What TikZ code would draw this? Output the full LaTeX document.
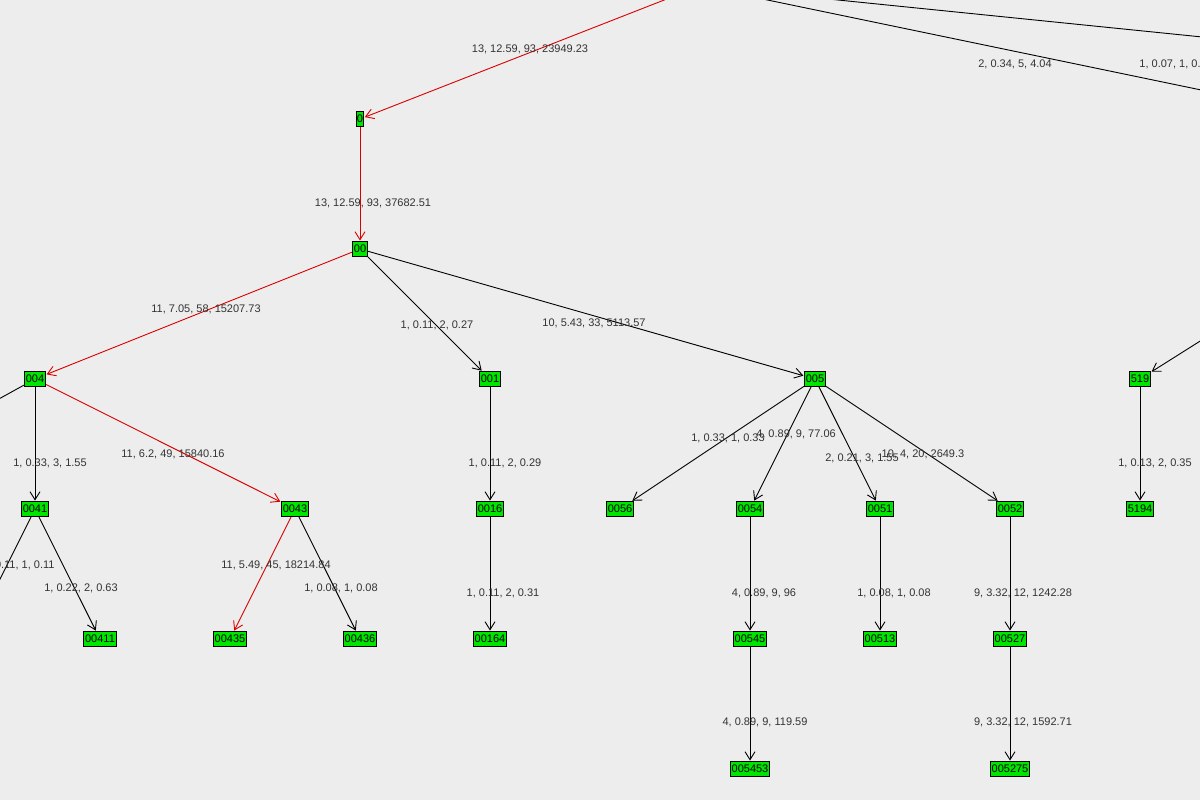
\documentclass[tikz,border=0pt]{standalone}
\usepackage{fontspec}
\setmainfont{Liberation Sans}
\usetikzlibrary{arrows.meta,positioning}

\begin{document}
\begin{tikzpicture}[x=1pt,y=-1pt,line width=0.9pt]
\tikzset{myFont/.style={font=\fontsize{11}{12}\selectfont}}
\tikzset{myBox/.style={draw,fill=green!90!black,myFont,inner sep=1.5pt,minimum height=15pt}}
\tikzset{myLbl/.style={myFont,text=black!80,inner sep=0pt}}
\tikzset{myEdge/.style={-{Straight Barb[length=8pt,width=10pt]},shorten >=0.5pt}}
\tikzset{myRed/.style={myEdge,red!85!black}}

\useasboundingbox (0,0) rectangle (1200,800);
\fill[black!7] (0,0) rectangle (1200,800);
\clip (0,0) rectangle (1200,800);

% nodes outside the frame
\node[myBox] (root) at (700,-14) {};
\node[myBox] (n51) at (1500,152) {};
\node[myBox] (n52) at (2000,118) {};
\node[myBox] (n0042) at (-200,509) {};
\node[myBox] (n00412) at (-30,639) {};

\node[myBox,inner sep=0.8pt] (n0) at (360,119) {0};
\node[myBox] (n00) at (360,249) {00};
\node[myBox] (n004) at (35,379) {004};
\node[myBox] (n001) at (490,379) {001};
\node[myBox] (n005) at (815,379) {005};
\node[myBox] (n519) at (1140,379) {519};
\node[myBox] (n0041) at (35,509) {0041};
\node[myBox] (n0043) at (295,509) {0043};
\node[myBox] (n0016) at (490,509) {0016};
\node[myBox] (n0056) at (620,509) {0056};
\node[myBox] (n0054) at (750,509) {0054};
\node[myBox] (n0051) at (880,509) {0051};
\node[myBox] (n0052) at (1010,509) {0052};
\node[myBox] (n5194) at (1140,509) {5194};
\node[myBox] (n00411) at (100,639) {00411};
\node[myBox] (n00435) at (230,639) {00435};
\node[myBox] (n00436) at (360,639) {00436};
\node[myBox] (n00164) at (490,639) {00164};
\node[myBox] (n00545) at (750,639) {00545};
\node[myBox] (n00513) at (880,639) {00513};
\node[myBox] (n00527) at (1010,639) {00527};
\node[myBox] (n005453) at (750,769) {005453};
\node[myBox] (n005275) at (1010,769) {005275};

% red path
\draw[myRed] (root) -- (n0);
\draw[myRed] (n0) -- (n00);
\draw[myRed] (n00) -- (n004);
\draw[myRed] (n004) -- (n0043);
\draw[myRed] (n0043) -- (n00435);

% other edges
\draw[myEdge] (root) -- (n51);
\draw[myEdge] (root) -- (n52);
\draw[myEdge] (n51) -- (n519);
\draw[myEdge] (n004) -- (n0042);
\draw[myEdge] (n0041) -- (n00412);
\draw[myEdge] (n00) -- (n001);
\draw[myEdge] (n00) -- (n005);
\draw[myEdge] (n004) -- (n0041);
\draw[myEdge] (n0041) -- (n00411);
\draw[myEdge] (n0043) -- (n00436);
\draw[myEdge] (n001) -- (n0016);
\draw[myEdge] (n0016) -- (n00164);
\draw[myEdge] (n005) -- (n0056);
\draw[myEdge] (n005) -- (n0054);
\draw[myEdge] (n005) -- (n0051);
\draw[myEdge] (n005) -- (n0052);
\draw[myEdge] (n0054) -- (n00545);
\draw[myEdge] (n00545) -- (n005453);
\draw[myEdge] (n0051) -- (n00513);
\draw[myEdge] (n0052) -- (n00527);
\draw[myEdge] (n00527) -- (n005275);
\draw[myEdge] (n519) -- (n5194);

% labels
\node[myLbl] (l1) at (530,49) {13, 12.59, 93, 23949.23};
\node[myLbl] (l2) at (1015,64) {2, 0.34, 5, 4.04};
\node[myLbl,anchor=west] (l3) at (1139,64) {1, 0.07, 1, 0.07};
\node[myLbl] (l4) at (373,203) {13, 12.59, 93, 37682.51};
\node[myLbl] (l5) at (206,309) {11, 7.05, 58, 15207.73};
\node[myLbl] (l6) at (437,325) {1, 0.11, 2, 0.27};
\node[myLbl] (l7) at (594,323) {10, 5.43, 33, 5113.57};
\node[myLbl] (l8) at (50,463) {1, 0.33, 3, 1.55};
\node[myLbl] (l9) at (173,454) {11, 6.2, 49, 15840.16};
\node[myLbl] (l10) at (505,463) {1, 0.11, 2, 0.29};
\node[myLbl] (l11) at (728,438) {1, 0.33, 1, 0.33};
\node[myLbl] (l12) at (796,434) {4, 0.89, 9, 77.06};
\node[myLbl] (l13) at (862,458) {2, 0.21, 3, 1.55};
\node[myLbl] (l14) at (923,454) {10, 4, 20, 2649.3};
\node[myLbl] (l15) at (1155,463) {1, 0.13, 2, 0.35};
\node[myLbl,anchor=east] (l16) at (55,565) {1, 0.11, 1, 0.11};
\node[myLbl] (l17) at (81,588) {1, 0.22, 2, 0.63};
\node[myLbl] (l18) at (276,565) {11, 5.49, 45, 18214.84};
\node[myLbl] (l19) at (341,588) {1, 0.08, 1, 0.08};
\node[myLbl] (l20) at (503,593) {1, 0.11, 2, 0.31};
\node[myLbl] (l21) at (764,593) {4, 0.89, 9, 96};
\node[myLbl] (l22) at (894,593) {1, 0.08, 1, 0.08};
\node[myLbl] (l23) at (1023,593) {9, 3.32, 12, 1242.28};
\node[myLbl] (l24) at (765,722) {4, 0.89, 9, 119.59};
\node[myLbl] (l25) at (1023,722) {9, 3.32, 12, 1592.71};
\end{tikzpicture}
\end{document}
